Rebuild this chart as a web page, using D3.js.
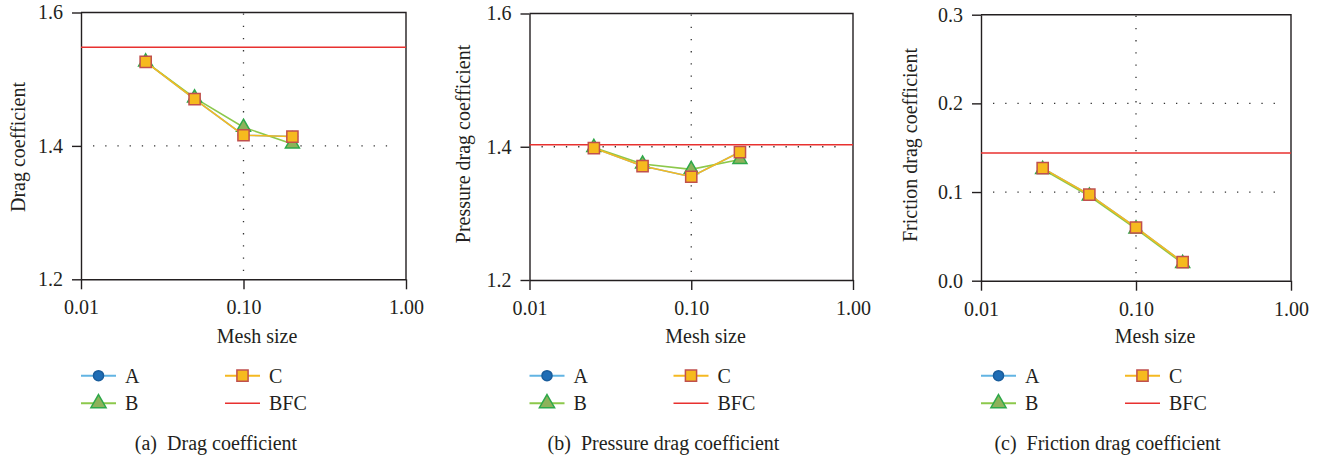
<!DOCTYPE html>
<html>
<head>
<meta charset="utf-8">
<script src="https://cdn.jsdelivr.net/npm/d3@7"></script>
<style>
  html, body { margin: 0; padding: 0; background: #fff; }
  svg text { font-family: "Liberation Serif", "Times New Roman", "DejaVu Serif", serif !important; fill: #231f20; }
</style>
</head>
<body>
<svg id="chart" width="1329" height="462"></svg>
<script>
const meshSize = [0.025, 0.05, 0.1, 0.2]
const xTicks = [0.01, 0.1, 1]

const dragA = [1.526, 1.470, 1.416, 1.414]
const dragB = [1.526, 1.472, 1.428, 1.403]
const dragC = [1.526, 1.470, 1.416, 1.414]
const dragBFC = 1.548
const dragTicks = [1.2, 1.4, 1.6]

const pressureA = [1.398, 1.371, 1.355, 1.392]
const pressureB = [1.399, 1.374, 1.366, 1.381]
const pressureC = [1.398, 1.371, 1.355, 1.392]
const pressureBFC = 1.403
const pressureTicks = [1.2, 1.4, 1.6]

const frictionA = [0.127, 0.097, 0.060, 0.021]
const frictionB = [0.1255, 0.0955, 0.0585, 0.0195]
const frictionC = [0.127, 0.097, 0.060, 0.021]
const frictionBFC = 0.144
const frictionTicks = [0.0, 0.1, 0.2, 0.3]

const seriesNames = ['A', 'B', 'C', 'BFC']

const fontStack = '"Liberation Serif", "Times New Roman", "DejaVu Serif", serif'

const style = {
  A: {line: '#62b4e3', fill: '#1f6db5', stroke: '#1a5d9c', symbol: d3.symbolCircle, size: 80},
  B: {line: '#8cc84b', fill: '#8db25a', stroke: '#2ea84a', symbol: d3.symbolTriangle, size: 85},
  C: {line: '#f5b921', fill: '#f6ba1e', stroke: '#c0504d', symbol: d3.symbolSquare, size: 125},
  BFC: {line: '#e8312f'}
}

const panels = [
  {left: 81, right: 406, top: 12.5, bottom: 279.3, yTicks: dragTicks, ygrid: [1.4],
   data: {A: dragA, B: dragB, C: dragC}, bfc: dragBFC, ylabel: 'Drag coefficient',
   ylabelX: 25, ylabelY: 147, meshX: 257, capX: 216, caption: '(a)  Drag coefficient'},
  {left: 529.5, right: 853, top: 13.5, bottom: 280, yTicks: pressureTicks, ygrid: [1.4],
   data: {A: pressureA, B: pressureB, C: pressureC}, bfc: pressureBFC, ylabel: 'Pressure drag coefficient',
   ylabelX: 470, ylabelY: 144, meshX: 705.5, capX: 663.5, caption: '(b)  Pressure drag coefficient'},
  {left: 981, right: 1291, top: 14.7, bottom: 280.7, yTicks: frictionTicks, ygrid: [0.1, 0.2],
   data: {A: frictionA, B: frictionB, C: frictionC}, bfc: frictionBFC, ylabel: 'Friction drag coefficient',
   ylabelX: 917, ylabelY: 145, meshX: 1155, capX: 1107.5, caption: '(c)  Friction drag coefficient'}
]

const svg = d3.select('#chart')

panels.forEach((p) => {
  const g = svg.append('g')
  const x = d3.scaleLog().domain([0.01, 1]).range([p.left, p.right])
  const y = d3.scaleLinear().domain(d3.extent(p.yTicks)).range([p.bottom, p.top])

  // dotted grid
  g.selectAll('line.hgrid')
    .data(p.ygrid)
    .join('line')
    .attr('class', 'hgrid')
    .attr('x1', p.left + 12).attr('x2', p.right - 8)
    .attr('y1', (d) => y(d)).attr('y2', (d) => y(d))
    .attr('stroke', '#333').attr('stroke-width', 1.3)
    .attr('stroke-dasharray', '1.3,10.9')
  g.append('line')
    .attr('x1', x(0.1)).attr('x2', x(0.1))
    .attr('y1', p.top + 1).attr('y2', p.bottom)
    .attr('stroke', '#333').attr('stroke-width', 1.3)
    .attr('stroke-dasharray', '1.3,10.9')

  // frame top/right
  g.append('path')
    .attr('d', `M${p.left},${p.top}H${p.right}V${p.bottom}`)
    .attr('fill', 'none').attr('stroke', '#231f20').attr('stroke-width', 1.4)

  const yAxis = g.append('g')
    .attr('transform', `translate(${p.left},0)`)
    .call(d3.axisLeft(y).tickValues(p.yTicks).tickFormat(d3.format('.1f')).tickSize(9).tickSizeOuter(0).tickPadding(9))
  const xAxis = g.append('g')
    .attr('transform', `translate(0,${p.bottom})`)
    .call(d3.axisBottom(x).tickValues(xTicks).tickFormat(d3.format('.2f')).tickSize(10).tickSizeOuter(0).tickPadding(11))
  ;[yAxis, xAxis].forEach((a) => {
    a.attr('font-family', fontStack).attr('font-size', 20)
    a.selectAll('path, line').attr('stroke', '#231f20').attr('stroke-width', 1.4)
    a.selectAll('text').attr('fill', '#231f20')
  })

  // BFC reference
  g.append('line')
    .attr('x1', p.left).attr('x2', p.right)
    .attr('y1', y(p.bfc)).attr('y2', y(p.bfc))
    .attr('stroke', style.BFC.line).attr('stroke-width', 1.5)

  const line = d3.line().x((d) => x(d[0])).y((d) => y(d[1]))
  ;['A', 'B', 'C'].forEach((name) => {
    const pts = meshSize.map((m, i) => [m, p.data[name][i]])
    g.append('path')
      .datum(pts)
      .attr('d', line)
      .attr('fill', 'none').attr('stroke', style[name].line).attr('stroke-width', 1.6)
    g.selectAll('path.m' + name)
      .data(pts)
      .join('path')
      .attr('class', 'm' + name)
      .attr('transform', (d) => `translate(${x(d[0])},${y(d[1])})`)
      .attr('d', d3.symbol(style[name].symbol, style[name].size))
      .attr('fill', style[name].fill).attr('stroke', style[name].stroke).attr('stroke-width', 1.5)
  })

  // labels
  g.append('text')
    .attr('transform', `translate(${p.ylabelX},${p.ylabelY}) rotate(-90)`)
    .attr('text-anchor', 'middle').attr('font-size', 20)
    .text(p.ylabel)
  g.append('text')
    .attr('x', p.meshX).attr('y', 342.7)
    .attr('text-anchor', 'middle').attr('font-size', 20)
    .text('Mesh size')
  g.append('text')
    .attr('x', p.capX).attr('y', 450)
    .attr('text-anchor', 'middle').attr('font-size', 20)
    .style('white-space', 'pre')
    .text(p.caption)

  // legend
  const legend = g.append('g')
  seriesNames.forEach((name, i) => {
    const lx = p.left + Math.floor(i / 2) * 144
    const ly = i % 2 === 0 ? 375.7 : 403.3
    const item = legend.append('g').attr('transform', `translate(${lx},${ly})`)
    item.append('line')
      .attr('x1', 0).attr('x2', 35)
      .attr('stroke', style[name].line).attr('stroke-width', name === 'BFC' ? 1.5 : 2)
    if (style[name].symbol) {
      item.append('path')
        .attr('transform', 'translate(17.5,0)')
        .attr('d', d3.symbol(style[name].symbol, name === 'B' ? 100 : style[name].size))
        .attr('fill', style[name].fill).attr('stroke', style[name].stroke).attr('stroke-width', 1.5)
    }
    item.append('text')
      .attr('x', 44).attr('dy', '0.35em')
      .attr('font-size', 20)
      .text(name)
  })
})
</script>
</body>
</html>
